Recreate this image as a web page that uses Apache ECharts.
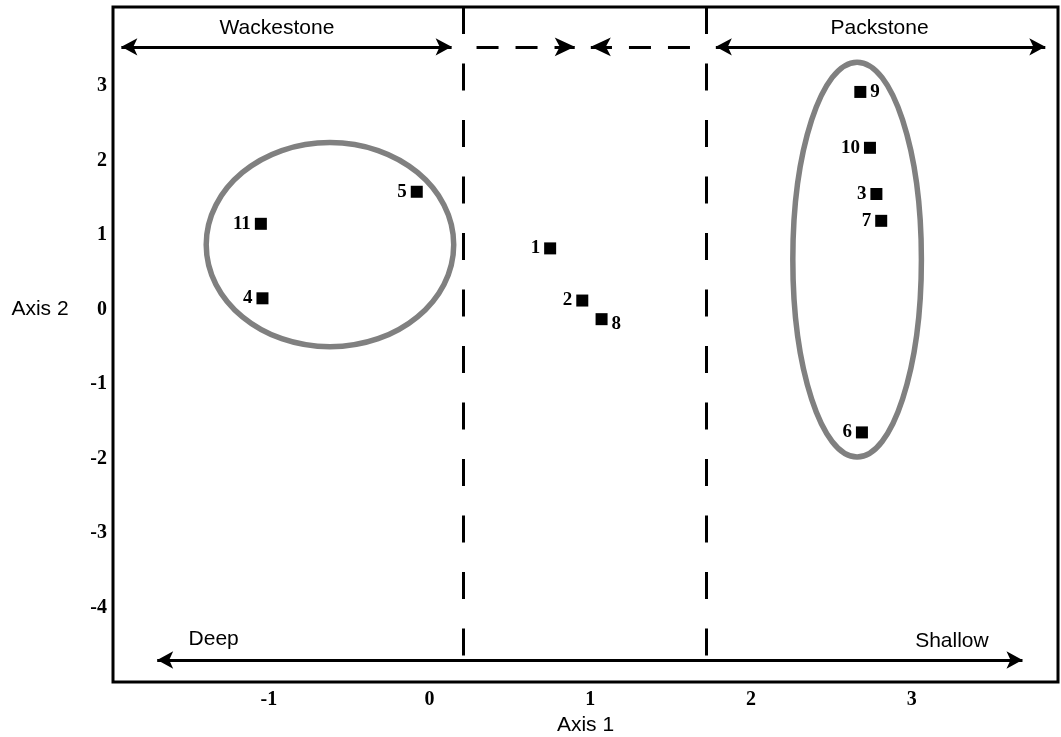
<!DOCTYPE html>
<html>
<head>
<meta charset="utf-8">
<script src="https://cdn.jsdelivr.net/npm/echarts@6/dist/echarts.min.js"></script>
<style>
html, body { margin: 0; background: #fff; }
#chart { width: 1061px; height: 737px; }
</style>
</head>
<body>
<div id="chart"></div>
<script>
// samples (ordination scores)
var samples = ['1', '2', '3', '4', '5', '6', '7', '8', '9', '10', '11'];
var axis1 = [0.75, 0.95, 2.78, -1.04, -0.08, 2.69, 2.81, 1.07, 2.68, 2.74, -1.05];
var axis2 = [0.82, 0.12, 1.55, 0.15, 1.58, -1.65, 1.19, -0.13, 2.92, 2.17, 1.15];
var labelSide = ['left', 'left', 'left', 'left', 'left', 'left', 'left', 'right', 'right', 'left', 'left'];

var xTicks = [-1, 0, 1, 2, 3];
var yTicks = [-4, -3, -2, -1, 0, 1, 2, 3];

// circled groups: centre and half widths in axis units
var groupCx = [-0.62, 2.66];
var groupCy = [0.87, 0.67];
var groupRx = [0.77, 0.40];
var groupRy = [1.37, 2.65];

// facies boundaries on axis 1
var boundaries = [0.21, 1.72];

var xMin = -1.97, xMax = 3.91, yMin = -5, yMax = 4.06;

var myChart = echarts.init(document.getElementById('chart'));

var tickFont = {
    color: '#000',
    fontFamily: 'Liberation Serif',
    fontWeight: 'bold',
    fontSize: 20
};

var pointData = [];
for (var i = 0; i < samples.length; i++) {
    var item = {
        name: samples[i],
        value: [axis1[i], axis2[i]],
        label: { position: labelSide[i] }
    };
    if (samples[i] === '8') item.label.offset = [0, 5];
    pointData.push(item);
}

var markLines = [];
// top arrows
markLines.push([{ coord: [-1.918, 3.525] }, { coord: [0.137, 3.525] }]);
markLines.push([{ coord: [1.781, 3.525] }, { coord: [3.831, 3.525] }]);
// dashed arrows meeting in the middle
markLines.push([
    { coord: [0.292, 3.525], symbol: 'none', lineStyle: { type: [22, 17] } },
    { coord: [0.903, 3.525], symbol: 'arrow', symbolSize: [14, 20] }
]);
markLines.push([
    { coord: [1.620, 3.525], symbol: 'none', lineStyle: { type: [22, 17] } },
    { coord: [1.003, 3.525], symbol: 'arrow', symbolSize: [14, 20] }
]);
// deep -> shallow
markLines.push([{ coord: [-1.695, -4.705] }, { coord: [3.689, -4.705] }]);
// vertical boundaries
for (var b = 0; b < boundaries.length; b++) {
    markLines.push([
        { coord: [boundaries[b], yMax], symbol: 'none', lineStyle: { type: [27, 29.5] } },
        { coord: [boundaries[b], -4.651], symbol: 'none' }
    ]);
}

var groupData = [];
for (var g = 0; g < groupCx.length; g++) {
    groupData.push([groupCx[g], groupCy[g], groupRx[g], groupRy[g]]);
}

var option = {
    animation: false,
    backgroundColor: '#fff',
    grid: {
        left: 113, right: 3, top: 7, bottom: 55,
        outerBoundsMode: 'none',
        show: true,
        borderColor: '#000',
        borderWidth: 3
    },
    xAxis: {
        type: 'value',
        min: xMin,
        max: xMax,
        name: 'Axis 1',
        nameLocation: 'middle',
        nameGap: 33,
        nameTextStyle: { color: '#000', fontFamily: 'Liberation Sans', fontSize: 21 },
        axisLine: { show: false },
        axisTick: { show: false },
        splitLine: { show: false },
        axisLabel: Object.assign({ customValues: xTicks, margin: 8 }, tickFont)
    },
    yAxis: {
        type: 'value',
        min: yMin,
        max: yMax,
        axisLine: { show: false },
        axisTick: { show: false },
        splitLine: { show: false },
        axisLabel: Object.assign({ customValues: yTicks, margin: 6 }, tickFont)
    },
    series: [
        {
            type: 'custom',
            silent: true,
            data: groupData,
            encode: { x: 0, y: 1 },
            renderItem: function (params, api) {
                var c = api.coord([api.value(0), api.value(1)]);
                var e = api.coord([api.value(0) + api.value(2), api.value(1) + api.value(3)]);
                return {
                    type: 'ellipse',
                    shape: { cx: c[0], cy: c[1], rx: Math.abs(e[0] - c[0]), ry: Math.abs(e[1] - c[1]) },
                    style: { fill: 'none', stroke: '#808080', lineWidth: 5.5 }
                };
            }
        },
        {
            type: 'scatter',
            symbol: 'rect',
            symbolSize: 12,
            itemStyle: { color: '#000', opacity: 1 },
            label: {
                show: true,
                formatter: '{b}',
                distance: 4,
                color: '#000',
                fontFamily: 'Liberation Serif',
                fontWeight: 'bold',
                fontSize: 19
            },
            data: pointData,
            markLine: {
                silent: true,
                symbol: ['arrow', 'arrow'],
                symbolSize: [13, 16],
                label: { show: false },
                lineStyle: { color: '#000', width: 3, type: 'solid', opacity: 1 },
                data: markLines
            }
        }
    ]
};
myChart.setOption(option);

// text annotations placed in axis units
function px(x, y) {
    return myChart.convertToPixel({ gridIndex: 0 }, [x, y]);
}
var sansFont = '21px "Liberation Sans"';
var texts = [
    { t: 'Wackestone', at: px(-0.95, 3.78), align: 'center' },
    { t: 'Packstone', at: px(2.80, 3.78), align: 'center' },
    { t: 'Deep', at: px(-1.50, -4.43), align: 'left' },
    { t: 'Shallow', at: px(3.25, -4.45), align: 'center' }
];
var graphics = texts.map(function (d) {
    return {
        type: 'text',
        x: d.at[0],
        y: d.at[1],
        style: { text: d.t, font: sansFont, fill: '#000', align: d.align, verticalAlign: 'middle' }
    };
});
var yName = px(xMin, 0);
graphics.push({
    type: 'text',
    x: yName[0] - 73,
    y: yName[1],
    style: { text: 'Axis 2', font: sansFont, fill: '#000', align: 'center', verticalAlign: 'middle' }
});
myChart.setOption({ graphic: graphics });
</script>
</body>
</html>
